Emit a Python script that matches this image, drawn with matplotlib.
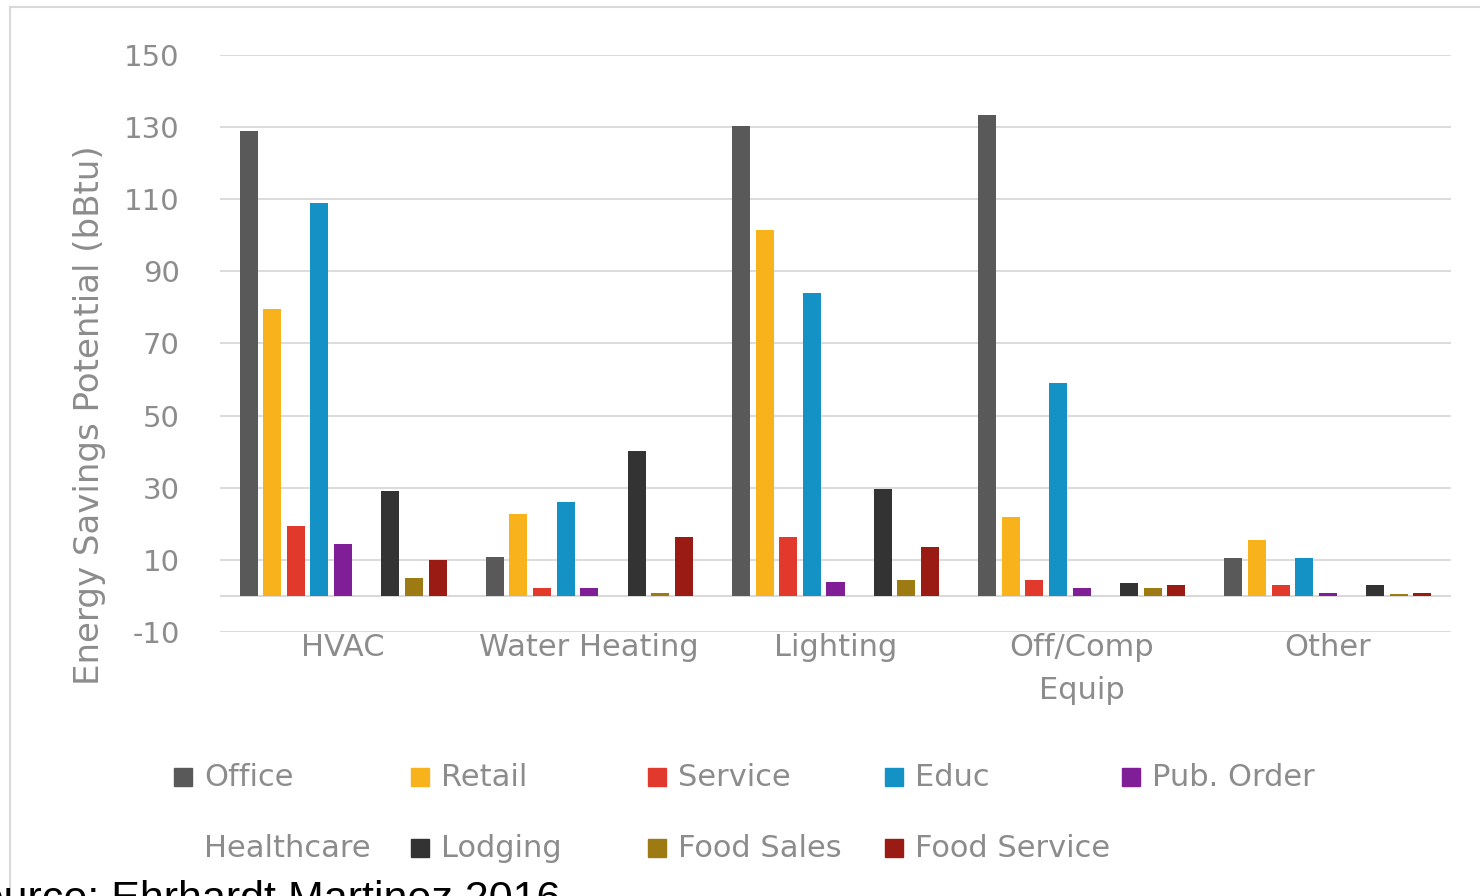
import numpy as np
import matplotlib.pyplot as plt
from matplotlib.patches import Rectangle
from matplotlib.lines import Line2D

plt.rcParams['font.family'] = ['DejaVu Sans']

# Данные
categories = ['HVAC', 'Water Heating', 'Lighting', 'Off/Comp\nEquip', 'Other']
series = ['Office', 'Retail', 'Service', 'Educ', 'Pub. Order',
          'Healthcare', 'Lodging', 'Food Sales', 'Food Service']
office = [128.9, 10.7, 130.2, 133.5, 10.6]
retail = [79.7, 22.6, 101.5, 21.9, 15.4]
service = [19.3, 2.2, 16.3, 4.3, 3.0]
educ = [109.0, 26.1, 83.9, 59.1, 10.6]
pub_order = [14.3, 2.2, 3.8, 2.2, 0.8]
healthcare = [0, 0, 0, 0, 0]
lodging = [29.0, 40.2, 29.7, 3.7, 3.0]
food_sales = [5.0, 0.9, 4.4, 2.2, 0.6]
food_service = [10.1, 16.3, 13.5, 3.0, 0.8]
values = [office, retail, service, educ, pub_order,
          healthcare, lodging, food_sales, food_service]

colors = ['#595959', '#F8B21C', '#E2392D', '#1492C6', '#7F1E96',
          '#FFFFFF', '#333333', '#9E7A12', '#9A1B14']
text_col = '#8C8C8C'
grid_col = '#D9D9D9'

W, H = 1480, 896
fig = plt.figure(figsize=(W / 100, H / 100), dpi=100)
ax = fig.add_axes([220 / W, 1 - 632 / H, (1451 - 220) / W, (632 - 55) / H])

x = np.arange(len(categories))
slot = 23.6 / 246
bw = 18 / 246
for i, vals in enumerate(values):
    ax.bar(x + (i - 4) * slot, vals, width=bw, color=colors[i], zorder=3)

ax.set_xlim(-0.5, 4.5)
ax.set_ylim(-10, 150)
ax.set_yticks(range(-10, 151, 20))
ax.set_yticklabels([str(v) for v in range(-10, 151, 20)])
ax.set_xticks(x)
ax.set_xticklabels(categories, linespacing=1.6)
ax.tick_params(axis='y', length=0, pad=29, labelsize=21, labelcolor=text_col)
ax.tick_params(axis='x', length=0, pad=1, labelsize=22, labelcolor=text_col)
ax.grid(axis='y', color=grid_col, lw=1.3, zorder=0)
ax.axhline(0, color=grid_col, lw=1.5, zorder=1)
for s in ax.spines.values():
    s.set_visible(False)

fig.text(90 / W, 1 - 415 / H, 'Energy Savings Potential (bBtu)', rotation=90,
         ha='center', va='center', fontsize=24.5, color=text_col)

# Легенда
for i, name in enumerate(series):
    row, col = divmod(i, 5)
    x0 = 174 + col * 237
    yc = 777 + row * 71
    fig.add_artist(Rectangle((x0 / W, 1 - (yc + 9) / H), 18 / W, 18 / H,
                             transform=fig.transFigure, color=colors[i]))
    fig.text((x0 + 30) / W, 1 - yc / H, name, ha='left', va='center',
             fontsize=22, color=text_col)

# Рамка
fig.add_artist(Line2D([10 / W, 10 / W], [0, 1 - 7 / H], color=grid_col, lw=1.5))
fig.add_artist(Line2D([10 / W, 1], [1 - 7 / H, 1 - 7 / H], color=grid_col, lw=1.5))

fig.text(560 / W, -15 / H, 'Source: Ehrhardt Martinez 2016', ha='right',
         va='baseline', fontsize=31, family='Liberation Sans', color='black')

fig.savefig('out.png', dpi=100)
